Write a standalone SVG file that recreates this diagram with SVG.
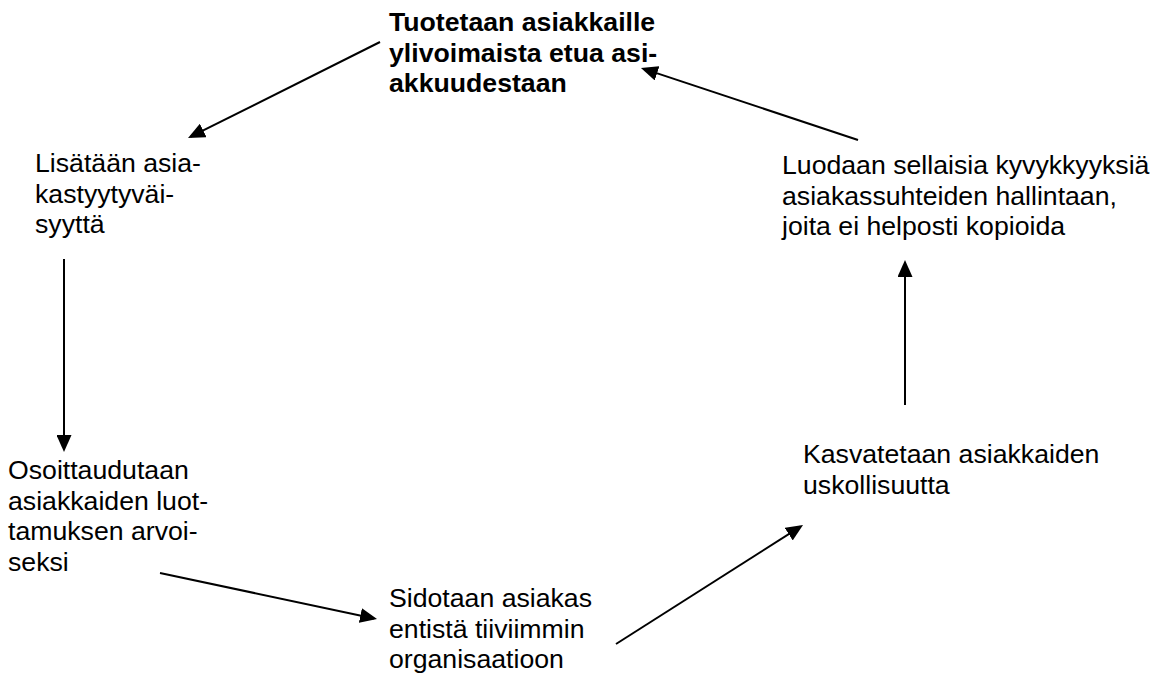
<svg xmlns="http://www.w3.org/2000/svg" width="1165" height="673" viewBox="0 0 1165 673">
  <defs>
    <marker id="arrow" markerUnits="userSpaceOnUse" markerWidth="17" markerHeight="15" refX="14" refY="7.5" orient="auto">
      <path d="M0,0 L17,7.5 L0,15 z" fill="#000"/>
    </marker>
    <style>
      text { font-family: "Liberation Sans", Arial, sans-serif; font-size: 26.67px; fill: #000; }
      .bold { font-weight: bold; }
      .conn line { stroke: #000; stroke-width: 2; marker-end: url(#arrow); }
    </style>
  </defs>
  <rect width="1165" height="673" fill="#fff"/>

  <g id="node-tuotetaan">
    <text class="bold" x="389" y="31">Tuotetaan asiakkaille</text>
    <text class="bold" x="389" y="61.5">ylivoimaista etua asi-</text>
    <text class="bold" x="389" y="92">akkuudestaan</text>
  </g>

  <g id="node-lisataan">
    <text x="35" y="172">Lisätään asia-</text>
    <text x="35" y="202.5">kastyytyväi-</text>
    <text x="35" y="233">syyttä</text>
  </g>

  <g id="node-osoittaudutaan">
    <text x="8" y="479">Osoittaudutaan</text>
    <text x="8" y="509.5">asiakkaiden luot-</text>
    <text x="8" y="540">tamuksen arvoi-</text>
    <text x="8" y="570.5">seksi</text>
  </g>

  <g id="node-sidotaan">
    <text x="389" y="607">Sidotaan asiakas</text>
    <text x="389" y="637.5">entistä tiiviimmin</text>
    <text x="389" y="668">organisaatioon</text>
  </g>

  <g id="node-kasvatetaan">
    <text x="803" y="463">Kasvatetaan asiakkaiden</text>
    <text x="803" y="493.5">uskollisuutta</text>
  </g>

  <g id="node-luodaan">
    <text x="782" y="174">Luodaan sellaisia kyvykkyyksiä</text>
    <text x="782" y="204.5">asiakassuhteiden hallintaan,</text>
    <text x="782" y="235">joita ei helposti kopioida</text>
  </g>

  <g id="connectors" class="conn">
    <line x1="380" y1="42" x2="190.7" y2="136.7"/>
    <line x1="858" y1="140" x2="643.8" y2="68.9"/>
    <line x1="64" y1="259" x2="64" y2="449"/>
    <line x1="160" y1="573" x2="374.1" y2="618.4"/>
    <line x1="616" y1="644" x2="800.5" y2="526.6"/>
    <line x1="905" y1="405" x2="905" y2="263"/>
  </g>
</svg>
